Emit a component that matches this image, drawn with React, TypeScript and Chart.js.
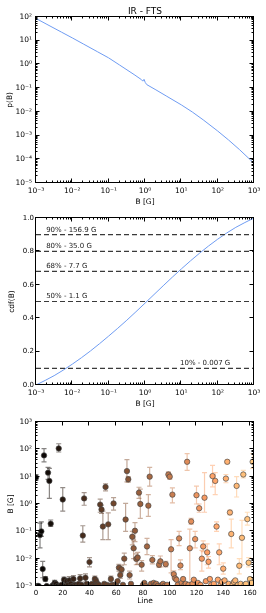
import React, { useEffect, useRef } from 'react';
import { Chart, registerables } from 'chart.js';
Chart.register(...registerables);

const FONT_FAMILY = '"DejaVu Sans", Verdana, sans-serif';
const LINE_BLUE = '#6f9cf2';

// ---------- Panel 1: p(B)
const TITLE = 'IR - FTS';
const pdfB = [0.001, 0.002, 0.005, 0.01, 0.02, 0.05, 0.1, 0.2, 0.5, 0.8, 0.87, 0.94, 1.02, 1.12, 2, 4, 10, 20, 40, 100, 200, 400, 1000];
const pdfP = [85, 48, 22.7, 12.9, 7.2, 3.33, 1.86, 0.93, 0.37, 0.225, 0.195, 0.232, 0.17, 0.139, 0.0837, 0.0447, 0.0195, 0.0098, 0.00457, 0.00155, 0.000646, 0.000254, 0.0000676];
const bDecades = [1e-3, 1e-2, 1e-1, 1, 10, 100, 1000];
const pDecades = [1e-5, 1e-4, 1e-3, 1e-2, 1e-1, 1, 10, 100];

// ---------- Panel 2: cdf(B)
const cdfB = [0.001, 0.00316, 0.01, 0.0316, 0.1, 0.316, 1, 3.16, 10, 31.6, 100, 316, 1000];
const cdfV = [0, 0.056, 0.125, 0.204, 0.293, 0.388, 0.49, 0.594, 0.695, 0.789, 0.873, 0.944, 1.0];
const cdfTicks = [0, 0.2, 0.4, 0.6, 0.8, 1.0];
const levelValues = [0.9, 0.8, 0.68, 0.5, 0.1];
const levelLabels = ['90% - 156.9 G', '80% - 35.0 G', '68% - 7.7 G', '50% - 1.1 G', '10% - 0.007 G'];
const levelLabelB = [0.0019, 0.0019, 0.0019, 0.0019, 9.2];

// ---------- Panel 3: B per line (index = line number)
const lineTicks = [0, 20, 40, 60, 80, 100, 120, 140, 160];
const lineMax = 163;
const fieldDecades = [1e-3, 1e-2, 1e-1, 1, 10, 100, 1000];
const bMean = [
  9.3, 0.001, 0.001, 0.073, 0.1, 0.0042, 60, 0.0018, 0.001, 14,
  7, 0.19, 0.001, 0.0011, 0.0013, 0.0012, 0.001, 108, 0.001, 0.0011,
  1.46, 0.0017, 0.001, 0.0015, 0.0011, 0.0016, 0.0012, 0.001, 0.0018, 0.0011,
  0.0011, 0.001, 0.0012, 0.0019, 0.0011, 0.07, 1.6, 0.002, 0.0012, 0.001,
  0.0075, 0.0011, 0.0012, 0.001, 0.0018, 0.0015, 0.0012, 0.0011, 0.95, 0.63,
  0.15, 0.0012, 4.2, 0.0011, 0.18, 0.001, 0.0018, 0.0011, 1.05, 0.0011,
  0.001, 0.0015, 0.0047, 0.0025, 0.004, 0.0011, 0.01, 0.27, 16, 8,
  0.0025, 0.0012, 0.063, 0.024, 0.105, 0.0098, 0.011, 2.6, 1.0, 0.006,
  0.0011, 0.0013, 0.001, 0.028, 0.87, 10, 0.0012, 0.009, 0.0013, 0.0011,
  0.0012, 0.001, 0.006, 0.008, 0.0011, 0.0012, 0.001, 0.0063, 0.0011, 12,
  10, 0.022, 2.2, 0.0027, 0.0019, 0.0017, 0.0011, 0.055, 0.0056, 0.0013,
  0.0018, 0.0011, 0.0012, 35, 0.0011, 0.024, 0.23, 0.0012, 0.0017, 0.052,
  2.1, 0.0013, 0.7, 0.0011, 0.01, 0.028, 1.7, 0.0015, 0.017, 0.0077,
  0.0018, 0.0011, 10.5, 0.0012, 7, 0.15, 0.0017, 0.017, 0.0011, 0.0014,
  0.0043, 0.0016, 8.5, 35, 0.0012, 0.49, 0.08, 0.0011, 0.0014, 0.0016,
  4.6, 0.0011, 0.0055, 0.0012, 0.058, 12, 0.0011, 0.0012, 0.28, 0.0071,
  0.0018, 0.0013, 35
];
const bLow = [
  7.5, null, null, 0.025, 0.065, 0.002, 35, 0.0015, null, 8,
  1.6, 0.15, null, null, 0.0011, null, null, 80, null, null,
  0.55, 0.0013, null, 0.0012, null, 0.0012, null, null, 0.0013, null,
  null, null, null, 0.0014, null, 0.04, 0.9, 0.0014, null, null,
  0.005, null, null, null, 0.0014, 0.0012, null, null, 0.5, 0.45,
  0.05, null, 3, null, 0.05, null, 0.0014, null, 0.6, null,
  null, null, 0.0035, 0.0019, 0.003, null, 0.006, 0.1, 6.5, 6.3,
  0.0018, null, 0.032, 0.01, 0.042, 0.006, 0.0062, 1.6, 0.3, 0.0035,
  null, null, null, 0.014, 0.35, 4.5, null, 0.0065, null, null,
  null, null, 0.0048, 0.005, null, null, null, 0.005, null, 9.5,
  8, 0.003, 1.1, 0.002, null, null, null, 0.03, 0.004, null,
  null, null, null, 17, null, 0.001, 0.18, null, null, 0.025,
  1, null, 0.5, null, 0.0035, 0.018, 0.5, null, 0.006, 0.0045,
  null, null, 4.2, null, 2.2, 0.1, null, 0.006, null, null,
  0.0027, null, 6, 30, null, 0.4, 0.025, null, null, null,
  1.8, null, 0.0028, null, 0.006, 9, null, null, 0.17, 0.005,
  null, null, 20
];
const bHigh = [
  12, null, null, 0.2, 0.22, 0.008, 107, 0.0022, null, 22,
  20, 0.26, null, null, 0.0016, null, null, 160, null, null,
  4, 0.0021, null, 0.0019, null, 0.0022, null, null, 0.0024, null,
  null, null, null, 0.0026, null, 0.16, 2.6, 0.0028, null, null,
  0.011, null, null, null, 0.0023, 0.0019, null, null, 1.5, 0.9,
  0.55, null, 5.5, null, 0.47, null, 0.0023, null, 1.7, null,
  null, null, 0.0062, 0.0032, 0.0055, null, 0.016, 1.05, 42, 10,
  0.0035, null, 0.1, 0.048, 0.21, 0.015, 0.017, 4.1, 3.5, 0.0085,
  null, null, null, 0.055, 2.2, 22, null, 0.013, null, null,
  null, null, 0.0075, 0.0125, null, null, null, 0.008, null, 15,
  12.5, 0.05, 3.9, 0.0036, null, null, null, 0.1, 0.009, null,
  null, null, null, 70, null, 0.12, 0.3, null, null, 0.1,
  4.5, null, 1, null, 0.02, 0.045, 14, null, 0.035, 0.012,
  null, null, 26, null, 14, 0.22, null, 0.035, null, null,
  0.007, null, 12, 40, null, 0.6, 0.28, null, null, null,
  10, null, 0.01, null, 0.25, 17, null, null, 0.5, 0.011,
  null, null, 70
];

// ---------- helpers
const SUP: Record<string, string> = { '-': '⁻', '0': '⁰', '1': '¹', '2': '²', '3': '³', '4': '⁴', '5': '⁵', '6': '⁶', '7': '⁷', '8': '⁸', '9': '⁹' };
const pow10Label = (v: number) => '10' + String(Math.round(Math.log10(v))).split('').map((c) => SUP[c]).join('');
const copper = (t: number, a = 1) => {
  const r = Math.min(1, 1.25 * t) * 255, g = 0.7812 * t * 255, b = 0.4975 * t * 255;
  return `rgba(${Math.round(r)},${Math.round(g)},${Math.round(b)},${a})`;
};
const font = (size: number) => ({ family: FONT_FAMILY, size });
const noGrid = { display: false, drawTicks: false, tickLength: 0 };

function logAxis(min: number, max: number, ticks: number[], pad: number, fitSize: (s: any) => void, title?: any) {
  return {
    type: 'logarithmic', min, max,
    afterBuildTicks: (s: any) => { s.ticks = ticks.map((v) => ({ value: v })); },
    afterFit: fitSize,
    ticks: { callback: (v: any) => pow10Label(Number(v)), font: font(7.5), color: '#000', padding: pad, autoSkip: false, maxRotation: 0 },
    grid: noGrid, border: { display: false },
    title,
  };
}
function linAxis(min: number, max: number, ticks: number[], pad: number, fitSize: (s: any) => void, fmt: (v: number) => string, title?: any) {
  return {
    type: 'linear', min, max,
    afterBuildTicks: (s: any) => { s.ticks = ticks.map((v) => ({ value: v })); },
    afterFit: fitSize,
    ticks: { callback: (v: any) => fmt(Number(v)), font: font(7), color: '#000', padding: pad, autoSkip: false, maxRotation: 0 },
    grid: noGrid, border: { display: false },
    title,
  };
}
const axTitle = (text: string, padding: any) => ({ display: true, text, font: font(7.5), color: '#000', padding });

function minorValues(scale: any): number[] {
  if (scale.type !== 'logarithmic') return [];
  const out: number[] = [];
  const e0 = Math.floor(Math.log10(scale.min)), e1 = Math.ceil(Math.log10(scale.max));
  for (let e = e0; e < e1; e++) for (let m = 2; m <= 9; m++) {
    const v = m * Math.pow(10, e);
    if (v > scale.min && v < scale.max) out.push(v);
  }
  return out;
}

const framePlugin = {
  id: 'frameTicks',
  afterDatasetsDraw(chart: any) {
    const { ctx, chartArea: ca, scales } = chart;
    const x = scales.x, y = scales.y;
    const L = Math.round(ca.left) - 0.5, R = Math.round(ca.right) - 0.5, T = Math.round(ca.top) - 0.5, B = Math.round(ca.bottom) - 0.5;
    ctx.save();
    ctx.strokeStyle = '#000';
    ctx.lineWidth = 1;
    const seg = (x1: number, y1: number, x2: number, y2: number) => { ctx.beginPath(); ctx.moveTo(x1, y1); ctx.lineTo(x2, y2); ctx.stroke(); };
    const xt = (v: number, len: number) => { const p = Math.round(x.getPixelForValue(v)) - 0.5; seg(p, B, p, B - len); seg(p, T, p, T + len); };
    const yt = (v: number, len: number) => { const p = Math.round(y.getPixelForValue(v)) - 0.5; seg(L, p, L + len, p); seg(R, p, R - len, p); };
    x.ticks.forEach((t: any) => xt(t.value, 4));
    y.ticks.forEach((t: any) => yt(t.value, 4));
    minorValues(x).forEach((v) => xt(v, 2));
    minorValues(y).forEach((v) => yt(v, 2));
    ctx.strokeRect(L, T, R - L, B - T);
    ctx.restore();
  },
};

const levelLabelPlugin = {
  id: 'levelLabels',
  afterDatasetsDraw(chart: any) {
    const { ctx, scales } = chart;
    ctx.save();
    ctx.fillStyle = '#222';
    ctx.font = `7px ${FONT_FAMILY}`;
    ctx.textBaseline = 'middle';
    ctx.textAlign = 'left';
    levelValues.forEach((lv, i) => {
      ctx.fillText(levelLabels[i], scales.x.getPixelForValue(levelLabelB[i]), scales.y.getPixelForValue(lv) - 5);
    });
    ctx.restore();
  },
};

const errorBarPlugin = {
  id: 'errorBars',
  beforeDatasetsDraw(chart: any) {
    const { ctx, scales, chartArea: ca } = chart;
    const n = bMean.length;
    ctx.save();
    ctx.beginPath();
    ctx.rect(ca.left, ca.top, ca.right - ca.left, ca.bottom - ca.top);
    ctx.clip();
    ctx.lineWidth = 1.2;
    for (let i = 0; i < n; i++) {
      const lo = bLow[i], hi = bHigh[i];
      if (lo == null || hi == null) continue;
      const px = scales.x.getPixelForValue(i);
      const y1 = scales.y.getPixelForValue(lo), y2 = scales.y.getPixelForValue(hi);
      ctx.strokeStyle = copper(i / (n - 1), 0.5);
      ctx.beginPath();
      ctx.moveTo(px, y1); ctx.lineTo(px, y2);
      ctx.moveTo(px - 2.5, y1); ctx.lineTo(px + 2.5, y1);
      ctx.moveTo(px - 2.5, y2); ctx.lineTo(px + 2.5, y2);
      ctx.stroke();
    }
    ctx.restore();
  },
};

const W = 266;

function ChartCanvas({ top, height, build }: { top: number; height: number; build: () => any }) {
  const ref = useRef<HTMLCanvasElement | null>(null);
  useEffect(() => {
    if (!ref.current) return;
    const chart = new Chart(ref.current, build());
    return () => chart.destroy();
  }, []);
  return <canvas ref={ref} width={W} height={height} style={{ position: 'absolute', left: 0, top, width: W, height }} />;
}

const baseOptions = (padTop: number, extraPlugins: any = {}) => ({
  responsive: false,
  animation: false,
  devicePixelRatio: 1,
  events: [],
  layout: { padding: { left: 0, right: 12, top: padTop, bottom: 0 } },
  plugins: { legend: { display: false }, tooltip: { enabled: false }, ...extraPlugins },
});

function buildPdf() {
  const H1 = 210;
  return {
    type: 'line',
    data: {
      datasets: [{
        data: pdfB.map((b, i) => ({ x: b, y: pdfP[i] })),
        borderColor: LINE_BLUE, borderWidth: 1, pointRadius: 0, fill: false, tension: 0,
      }],
    },
    options: {
      ...baseOptions(0, {
        title: { display: true, text: TITLE, font: { ...font(9), weight: 'normal' }, color: '#000', padding: { top: 6, bottom: 0 }, fullSize: false },
      }),
      scales: {
        x: logAxis(1e-3, 1e3, bDecades, 4, (s: any) => { s.height = H1 - 183; }, axTitle('B [G]', { top: 0, bottom: 3.5 })),
        y: logAxis(1e-5, 1e2, pDecades, 4, (s: any) => { s.width = 36; }, axTitle('p(B)', { top: 6, bottom: 0 })),
      },
    },
    plugins: [framePlugin],
  };
}

function buildCdf() {
  const H2 = 200;
  const xMin = 1e-3, xMax = 1e3;
  return {
    type: 'line',
    data: {
      datasets: [
        ...levelValues.map((lv) => ({
          data: [{ x: xMin, y: lv }, { x: xMax, y: lv }],
          borderColor: '#3a3a3a', borderWidth: 1.2, borderDash: [5, 3], pointRadius: 0, fill: false,
        })),
        {
          data: cdfB.map((b, i) => ({ x: b, y: cdfV[i] })),
          borderColor: LINE_BLUE, borderWidth: 1, pointRadius: 0, fill: false, cubicInterpolationMode: 'monotone',
        },
      ],
    },
    options: {
      ...baseOptions(8),
      scales: {
        x: logAxis(xMin, xMax, bDecades, 4, (s: any) => { s.height = H2 - 175; }, axTitle('B [G]', { top: 0, bottom: 1 })),
        y: linAxis(0, 1, cdfTicks, 2, (s: any) => { s.width = 36; }, (v) => v.toFixed(1), axTitle('cdf(B)', { top: 8, bottom: 0 })),
      },
    },
    plugins: [framePlugin, levelLabelPlugin],
  };
}

function buildLines() {
  const H3 = 203;
  const n = bMean.length;
  return {
    type: 'scatter',
    data: {
      datasets: [{
        data: bMean.map((v, i) => ({ x: i, y: v })),
        pointRadius: 2.7,
        pointBackgroundColor: bMean.map((_, i) => copper(i / (n - 1))),
        pointBorderColor: 'rgba(70,70,70,0.85)',
        pointBorderWidth: 0.8,
      }],
    },
    options: {
      ...baseOptions(12),
      scales: {
        x: linAxis(0, lineMax, lineTicks, 3, (s: any) => { s.height = H3 - 176; }, (v) => String(v), axTitle('Line', { top: 0, bottom: 7 })),
        y: logAxis(1e-3, 1e3, fieldDecades, 4, (s: any) => { s.width = 36; }, axTitle('B [G]', { top: 7, bottom: 0 })),
      },
    },
    plugins: [errorBarPlugin, framePlugin],
  };
}

export default function App() {
  return (
    <div style={{ position: 'absolute', left: 0, top: 0, width: W, height: 613, background: '#fff' }}>
      <ChartCanvas top={0} height={210} build={buildPdf} />
      <ChartCanvas top={210} height={200} build={buildCdf} />
      <ChartCanvas top={410} height={203} build={buildLines} />
    </div>
  );
}
